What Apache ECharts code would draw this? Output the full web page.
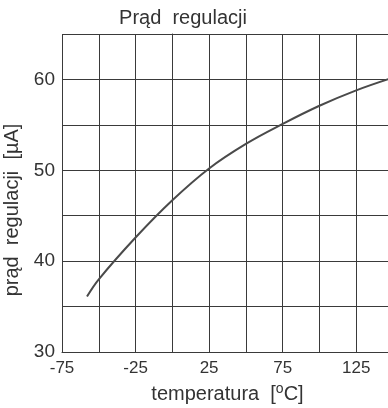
<!DOCTYPE html>
<html>
<head>
<meta charset="utf-8">
<script src="https://cdn.jsdelivr.net/npm/echarts@6/dist/echarts.min.js"></script>
<style>
  html, body { margin: 0; padding: 0; background: #fff; }
  #chart { width: 388px; height: 408px; }
</style>
</head>
<body>
<div id="chart"></div>
<script>
// temperatura [°C] -> prąd regulacji [µA]
const temps = [-58, -50, -25, 0, 25, 50, 75, 100, 125, 150];
const current = [36.1, 38.0, 42.6, 46.7, 50.2, 52.9, 55.1, 57.1, 58.8, 60.2];

const xLabels = [-75, -25, 25, 75, 125];
const yLabels = [30, 40, 50, 60];

const font = "'Liberation Sans', Arial, sans-serif";
const gridColor = '#3a3a3a';

const chart = echarts.init(document.getElementById('chart'));

chart.setOption({
  animation: false,
  title: {
    text: 'Prąd  regulacji',
    left: 178,
    textAlign: 'center',
    top: 3,
    textStyle: { fontFamily: font, fontSize: 20, fontWeight: 'normal', color: '#333' }
  },
  // right edge (150 °C) falls just past the canvas, like the cropped scan
  grid: { left: 62, width: 331, top: 34, bottom: 56, containLabel: false, outerBoundsMode: 'none' },
  xAxis: {
    type: 'value',
    min: -75,
    max: 150,
    interval: 25,
    name: '{t|temperatura  [}{s|o}{t|C]}',
    nameLocation: 'middle',
    nameGap: 30,
    nameTextStyle: {
      rich: {
        t: { fontFamily: font, fontSize: 20, color: '#333' },
        s: { fontFamily: font, fontSize: 14, color: '#333', verticalAlign: 'top', padding: [0, 0, 11, 0] }
      }
    },
    axisLine: { show: true, lineStyle: { color: gridColor, width: 1 } },
    axisTick: { show: false },
    splitLine: { show: true, lineStyle: { color: gridColor, width: 1 } },
    axisLabel: {
      margin: 8,
      fontFamily: font,
      fontSize: 17,
      color: '#333',
      formatter: v => (xLabels.includes(v) ? String(v) : '')
    }
  },
  yAxis: {
    type: 'value',
    min: 30,
    max: 65,
    interval: 5,
    name: 'prąd  regulacji  [µA]',
    nameLocation: 'middle',
    nameGap: 36,
    nameTextStyle: { fontFamily: font, fontSize: 20, color: '#333', padding: [0, 34, 0, 0] },
    axisLine: { show: true, lineStyle: { color: gridColor, width: 1 } },
    axisTick: { show: false },
    splitLine: { show: true, lineStyle: { color: gridColor, width: 1 } },
    axisLabel: {
      margin: 7,
      fontFamily: font,
      fontSize: 19,
      color: '#333',
      formatter: v => (yLabels.includes(v) ? String(v) : '')
    }
  },
  series: [{
    type: 'line',
    data: temps.map((t, i) => [t, current[i]]),
    smooth: 0.4,
    showSymbol: false,
    clip: true,
    lineStyle: { color: '#4a4a4a', width: 2 }
  }]
});
</script>
</body>
</html>
